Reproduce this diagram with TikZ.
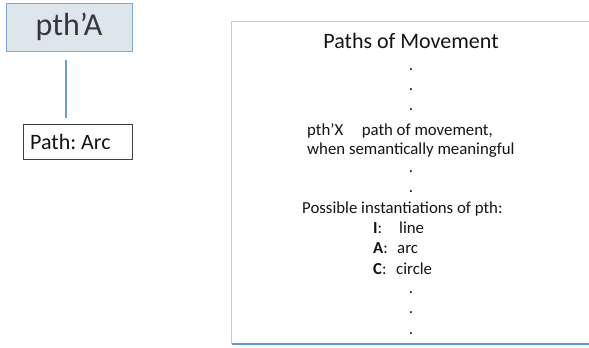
\documentclass[tikz,border=0pt]{standalone}
\usepackage{fontspec}
\setmainfont{Carlito}
\frenchspacing
\definecolor{boxfill}{HTML}{DDE7EB}
\definecolor{boxline}{HTML}{7BA7D7}
\definecolor{connblue}{HTML}{6C9DD6}
\definecolor{frameLight}{HTML}{AFCDEE}
\definecolor{frameDark}{HTML}{5E9BDF}
\definecolor{txt}{HTML}{141414}
\tikzset{
  headbox/.style={draw=boxline, line width=1pt, fill=boxfill, inner sep=0pt, minimum width=126pt, minimum height=48pt, font=\fontsize{32}{36}\selectfont, text=txt!85},
  valbox/.style={draw=black!75, line width=1pt, inner xsep=7pt, inner ysep=0pt, text width=95pt, align=flush left, minimum height=35pt, font=\fontsize{22}{26}\selectfont, text=txt},
  conn/.style={draw=connblue, line width=1.8pt},
  body/.style={font=\fontsize{16.8}{20}\selectfont, text=txt, inner sep=0pt},
  title/.style={font=\fontsize{22}{26}\selectfont, text=txt, inner sep=0pt},
  dotline/.style={body, text height=2.5pt, text depth=0pt}
}
\begin{document}
\begin{tikzpicture}[x=1pt,y=-1pt]
\useasboundingbox (0,0) rectangle (589,348);
% left part
\node[headbox] (head) at (69,27) {pth’A};
\node[valbox, anchor=north west] (val) at (22.7,124) {Path: Arc};
\draw[conn, shorten <=8pt, shorten >=6pt] (head.south -| 66,0) coordinate (hs) -- (val.north -| 66,0) coordinate (vn);
% frame
\begin{scope}
\clip (0,0) rectangle (589,348);
\draw[frameLight, line width=1.6pt] (600,21.5) -- (231.5,21.5) -- (231.5,344);
\draw[frameDark, line width=1.6pt] (231.5,344) -- (600,344);
\end{scope}
% text
\node[title, anchor=base] (t) at (411,48) {Paths of Movement};
\foreach \y/\n in {70/d1,90/d2,110/d3,172/d4,192/d5,293/d6,313/d7,334/d8}
  \node[dotline, anchor=base] (\n) at (411,\y) {.};
\node[body, anchor=base west] (l1) at (307,135) {pth’X\hspace{1.1em}path of movement,};
\node[body, anchor=base west] (l2) at (307,154) {when semantically meaningful};
\node[body, anchor=base west] (l3) at (302,213) {Possible instantiations of pth:};
\node[body, anchor=base west] (i1) at (373,233) {\textbf{I}:};
\node[body, anchor=base west] (i1t) at (399,233) {line};
\node[body, anchor=base west] (i2) at (373,253) {\textbf{A}:};
\node[body, anchor=base west] (i2t) at (397,253) {arc};
\node[body, anchor=base west] (i3) at (373,274) {\textbf{C}:};
\node[body, anchor=base west] (i3t) at (396,274) {circle};
\end{tikzpicture}
\end{document}
